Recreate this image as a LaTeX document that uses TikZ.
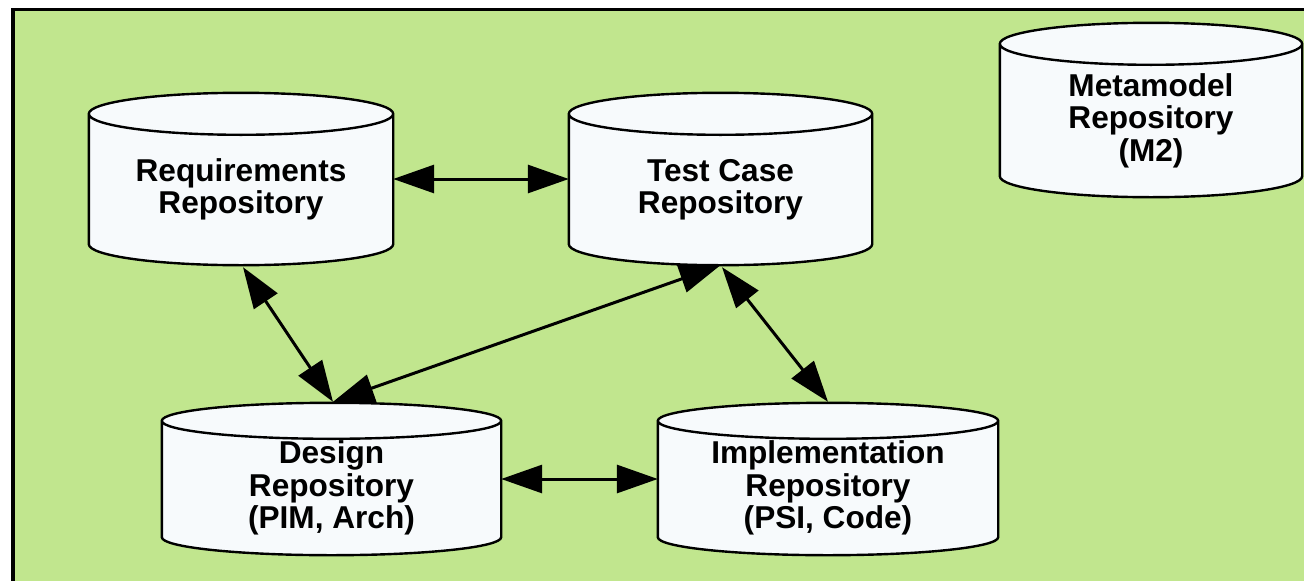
\documentclass[tikz,border=0pt]{standalone}
\usepackage{fontspec}
\setmainfont{Liberation Sans}
\usetikzlibrary{arrows.meta,calc,backgrounds}

\definecolor{panelgreen}{RGB}{193,230,142}
\definecolor{drumfill}{RGB}{247,250,252}

\tikzset{
  panel/.style={draw=black, line width=3.5pt, fill=panelgreen},
  repo/.style={rectangle, draw=none, inner sep=0pt, align=center,
    font=\fontsize{31.6}{32.5}\selectfont\bfseries},
  drumstyle/.style={draw=black, line width=2.4pt, fill=drumfill, line join=round},
  link/.style={line width=3pt, {Triangle[length=41pt,width=28pt]}-{Triangle[length=41pt,width=28pt]}},
}

% Draws a repository drum around a node that spans the body:
% #1 = node name, #2 = radius of the elliptic caps
\newcommand\repodrum[2]{%
  \path[drumstyle] let \p1=(#1.north west), \p2=(#1.south east), \n1={(\x2-\x1)/2} in
    (\x1,\y1) -- (\x1,\y2+#2)
    arc[start angle=180, end angle=360, x radius=\n1, y radius=#2]
    -- (\x2,\y1)
    arc[start angle=0, end angle=180, x radius=\n1, y radius=#2] -- cycle
    (\x1,\y1) arc[start angle=180, end angle=360, x radius=\n1, y radius=#2];
}

\begin{document}
\begin{tikzpicture}[x=1pt, y=1pt]
  \useasboundingbox (0,0) rectangle (1304,-581);
  \clip (0,0) rectangle (1304,-581);

  \begin{pgfonlayer}{background}
    \draw[panel] (13,-9.5) rectangle (1340,-620);
  \end{pgfonlayer}

  % repositories (each node covers the drum body below the top cap centre line)
  \node[repo, minimum width=304pt, minimum height=151pt] (req)  at (241,-189.5)  {Requirements\\Repository};
  \node[repo, minimum width=303pt, minimum height=151pt] (tc)   at (720.5,-189.5) {Test Case\\Repository};
  \node[repo, minimum width=302pt, minimum height=153pt] (meta) at (1151,-120.5) {Metamodel\\Repository\\(M2)};
  \node[repo, minimum width=339pt, minimum height=134pt] (des)  at (331.5,-488)  {Design\\Repository\\(PIM, Arch)};
  \node[repo, minimum width=340pt, minimum height=134pt] (impl) at (828,-488)    {Implementation\\Repository\\(PSI, Code)};

  \begin{pgfonlayer}{background}
    \repodrum{req}{21pt}
    \repodrum{tc}{21pt}
    \repodrum{meta}{21pt}
    \repodrum{des}{18pt}
    \repodrum{impl}{18pt}
  \end{pgfonlayer}

  % links between repositories
  \draw[link] ([yshift=10.5pt]req.east) -- ([yshift=10.5pt]tc.west);
  \draw[link] ([yshift=9pt]des.east) -- ([yshift=9pt]impl.west);
  \draw[link] ([xshift=2pt,yshift=-2pt]req.south) -- ([xshift=1.5pt,yshift=19pt]des.north);
  \draw[link] (tc.south) -- ([xshift=1.5pt,yshift=19pt]des.north);
  \draw[link] ([xshift=1.5pt,yshift=-2pt]tc.south) -- ([yshift=19pt]impl.north);
\end{tikzpicture}
\end{document}
